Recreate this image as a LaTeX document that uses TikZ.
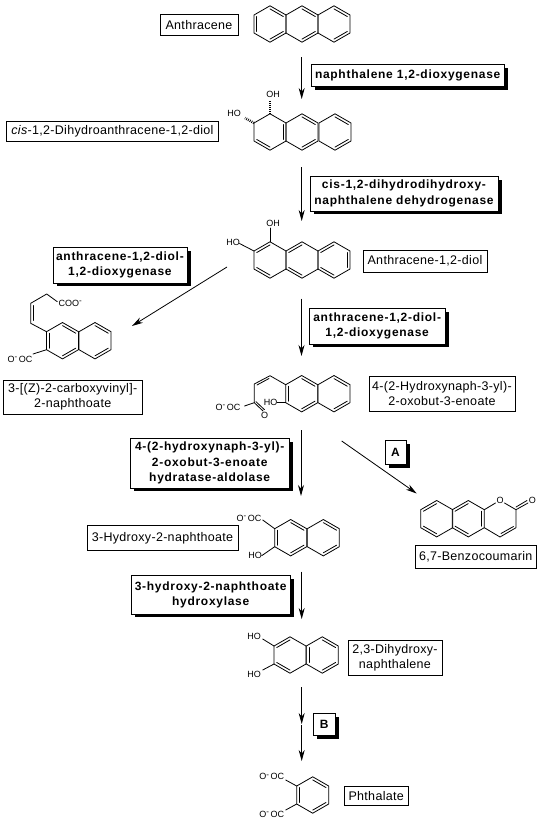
\documentclass[tikz,border=0pt]{standalone}
\usepackage{fontspec}
\setmainfont{Liberation Sans}
\newfontfamily\enzfont[LetterSpace=6]{Liberation Sans Bold}
\newfontfamily\labfont[LetterSpace=2.5]{Liberation Sans}
\newfontfamily\chemfont{Liberation Sans}
\usetikzlibrary{arrows.meta,calc}
\tikzset{
  labelbox/.style={draw=black,line width=.9pt,fill=white,inner sep=0pt,align=center,font=\labfont\fontsize{12.5}{15}\selectfont},
  enzbox/.style={draw=black,line width=.9pt,fill=white,inner sep=0pt,align=center,font=\enzfont\fontsize{12}{15.2}\selectfont},
  shadowbox/.style={fill=black,draw=none},
  chem/.style={inner sep=0pt,font=\chemfont\fontsize{9}{10}\selectfont},
  bondline/.style={line width=.8pt,line cap=round,line join=round},
  rxn/.style={line width=.8pt,-{Stealth[length=11pt,width=6pt,inset=3.5pt]}},
  hashbond/.style={line width=2.6pt,dash pattern=on .8pt off 1.2pt}
}
\newcommand\lbox[6]{\node[labelbox,minimum width=#4pt-#2pt,minimum height=#5pt-#3pt,anchor=north west] (#1) at (#2,#3) {#6};}
\newcommand\ebox[6]{\fill[shadowbox] (#2+4,#3+4) rectangle (#4+4,#5+3.5);
  \node[enzbox,minimum width=#4pt-#2pt,minimum height=#5pt-#3pt,anchor=north west] (#1) at (#2,#3) {#6};}
% ring: name, cx, cy, list of inner double bonds, 1 top, 2 UR, 3 LR, 4 bottom, 5 LL, 6 UL
\newcommand\ring[4]{%
  \coordinate (#1c) at (#2,#3);
  \coordinate (#11) at (#2,#3-18.2);
  \coordinate (#12) at (#2+16,#3-9);
  \coordinate (#13) at (#2+16,#3+9);
  \coordinate (#14) at (#2,#3+18.2);
  \coordinate (#15) at (#2-16,#3+9);
  \coordinate (#16) at (#2-16,#3-9);
  \draw[bondline] (#11)--(#12)--(#13)--(#14)--(#15)--(#16)--cycle;
  \foreach \a/\b in {#4}{\draw[bondline] ($(#1\a)!.17!(#1c)$)--($(#1\b)!.17!(#1c)$);}
}
\newcommand\ooc[3]{\node[chem] (#1) at (#2,#3) {O\raisebox{2.5pt}{\fontsize{8}{8}\selectfont -}\,OC};}
\begin{document}
\begin{tikzpicture}[x=1pt,y=-1pt]
\useasboundingbox (0,0) rectangle (540,819);
\fill[white] (0,0) rectangle (540,819);

% labels
\lbox{lAnth}{159.5}{13.5}{237.5}{35}{Anthracene}
\lbox{lCis}{6}{120.5}{218}{141}{\textit{cis}-1,2-Dihydroanthracene-1,2-diol}
\lbox{lDiol}{362.5}{249.5}{486.5}{271.5}{Anthracene-1,2-diol}
\lbox{lCarb}{3}{379.5}{141.5}{414}{3-[(Z)-2-carboxyvinyl]-\\2-naphthoate}
\lbox{lOxo}{368.5}{375.5}{514.5}{410.5}{4-(2-Hydroxynaph-3-yl)-\\2-oxobut-3-enoate}
\lbox{lHN}{86.5}{525}{237.5}{550}{3-Hydroxy-2-naphthoate}
\lbox{lBenzo}{414.5}{545}{536}{567.5}{6,7-Benzocoumarin}
\lbox{lDH}{347.5}{639.5}{441.5}{674.5}{2,3-Dihydroxy-\\naphthalene}
\lbox{lPh}{344}{785.5}{407.5}{805}{Phthalate}

% enzymes
\ebox{eA}{310.5}{63.5}{504}{86}{naphthalene 1,2-dioxygenase}
\ebox{eB}{309.5}{175.5}{497.5}{210.5}{cis-1,2-dihydrodihydroxy-\\naphthalene dehydrogenase}
\ebox{eC}{52.5}{246.5}{186.5}{282.5}{anthracene-1,2-diol-\\1,2-dioxygenase}
\ebox{eD}{308.5}{307.5}{445}{343.5}{anthracene-1,2-diol-\\1,2-dioxygenase}
\ebox{eE}{130}{437.5}{288.5}{487.5}{4-(2-hydroxynaph-3-yl)-\\2-oxobut-3-enoate\\hydratase-aldolase}
\ebox{eF}{131}{575}{289.5}{613.5}{3-hydroxy-2-naphthoate\\hydroxylase}
\ebox{eG}{384.5}{439.5}{405.5}{464}{A}
\ebox{eH}{312.5}{712.5}{335}{735}{B}

% reactions
\coordinate (a1s) at (301.7,57); \coordinate (a1e) at (301.7,99);
\coordinate (a2s) at (301.7,167); \coordinate (a2e) at (301.7,221);
\coordinate (a3s) at (301.5,298.5); \coordinate (a3e) at (301.5,356);
\coordinate (a4s) at (301,430); \coordinate (a4e) at (301,496);
\coordinate (a5s) at (301.7,571.5); \coordinate (a5e) at (301.7,619);
\coordinate (a6s) at (301.7,687); \coordinate (a6m) at (301.7,724);
\coordinate (a6n) at (301.7,725); \coordinate (a6e) at (301.7,761);
\coordinate (d1s) at (227,267); \coordinate (d1e) at (132,326);
\coordinate (d2s) at (341.7,441); \coordinate (d2e) at (416.7,493.5);
\foreach \s/\e in {a1s/a1e,a2s/a2e,a3s/a3e,a4s/a4e,a5s/a5e,a6s/a6m,a6n/a6e,d1s/d1e,d2s/d2e}
  \draw[rxn] (\s)--(\e);

% Anthracene
\ring{ma}{270}{24}{6/5,1/2,3/4}
\ring{mb}{302}{24}{1/2,3/4}
\ring{mc}{334}{24}{1/2,3/4}

% cis-dihydrodiol
\ring{na}{270}{132}{2/3,5/4}
\ring{nb}{302}{132}{1/2,3/4}
\ring{nc}{335}{132}{1/2,3/4}
\node[chem] (nOH) at (273,94) {OH};
\node[chem] (nHO) at (234,113) {HO};
\draw[hashbond] (na1)--(270,101);
\draw[hashbond] (na6)--(245,118);

% Anthracene-1,2-diol
\ring{pa}{270}{260}{6/1,5/4}
\ring{pb}{302}{260}{6/1,5/4}
\ring{pc}{334}{260}{6/1,5/4,2/3}
\node[chem] (pOH) at (273,223) {OH};
\node[chem] (pHO) at (233,242) {HO};
\draw[bondline] (pa1)--(270,228);
\draw[bondline] (pa6)--(239.5,243.5);

% carboxyvinyl naphthoate
\ring{qa}{62.5}{340.7}{6/5,1/2,3/4}
\ring{qb}{95}{340.7}{1/2,3/4}
\coordinate (q1) at (30.7,323.3); \coordinate (q2) at (30.7,303.3);
\coordinate (q3) at (46.7,294); \coordinate (q4) at (57.3,301.7);
\draw[bondline] (qa6)--(q1)--(q2)--(q3)--(q4);
\draw[bondline] (33.2,320.5)--(33.2,305.5);
\node[chem,anchor=west] (qC) at (58.5,303.5) {COO\raisebox{3pt}{\fontsize{8}{8}\selectfont -}};
\ooc{qO}{20}{359}
\draw[bondline] (33,354)--(qa5);

% hydroxynaphthyl oxobutenoate
\ring{ra}{301.7}{393.7}{6/5,1/2,3/4}
\ring{rb}{334}{393.7}{1/2,3/4}
\coordinate (r1) at (270,375.7); \coordinate (r2) at (254.3,384); \coordinate (r3) at (254.3,402.7);
\draw[bondline] (ra6)--(r1)--(r2)--(r3);
\draw[bondline] (269,378.5)--(257,385);
\draw[bondline] (r3)--(263,411);
\draw[bondline] (256,401.7)--(264.5,409.7);
\node[chem] (rO) at (264.5,415.7) {O};
\node[chem] (rHO) at (270.7,402.7) {HO};
\draw[bondline] (277.3,402.7)--(ra5);
\ooc{rC}{228}{407}
\draw[bondline] (244.5,406)--(r3);

% 3-hydroxy-2-naphthoate
\ring{sa}{290.7}{537.7}{6/5,1/2,3/4}
\ring{sb}{323.3}{537.7}{1/2,3/4}
\ooc{sC}{249}{518.3}
\node[chem] (sHO) at (255,555.7) {HO};
\draw[bondline] (262.7,520)--(sa6);
\draw[bondline] (261.7,555.7)--(sa5);

% benzocoumarin
\ring{ua}{436.7}{518.7}{6/1,5/4}
\ring{ub}{468.3}{518.7}{6/1,5/4,2/3}
\node[chem] (uO) at (500,500) {O};
\node[chem] (uO2) at (532.3,500) {O};
\coordinate (u1) at (516,509.7); \coordinate (u2) at (516,527.7); \coordinate (u3) at (500,537);
\draw[bondline] (ub2)--(495.5,503);
\draw[bondline] (504.5,503)--(u1)--(u2)--(u3)--(ub3);
\draw[bondline] (501,533.5)--(513.5,526.5);
\draw[bondline] (u1)--(528,503);
\draw[bondline] (516,507)--(527,500.5);

% 2,3-dihydroxynaphthalene
\ring{va}{290}{655}{6/1,5/4}
\ring{vb}{322.3}{655}{6/5,1/2,3/4}
\node[chem] (vH1) at (254,636.7) {HO};
\node[chem] (vH2) at (254,674) {HO};
\draw[bondline] (262.7,639)--(va6);
\draw[bondline] (262.7,670)--(va5);

% phthalate
\ring{wa}{312.7}{795}{6/5,1/2,3/4}
\ooc{wC1}{271.7}{776.7}
\ooc{wC2}{271.7}{814.3}
\draw[bondline] (285.7,780)--(wa6);
\draw[bondline] (285.7,810)--(wa5);
\end{tikzpicture}
\end{document}
